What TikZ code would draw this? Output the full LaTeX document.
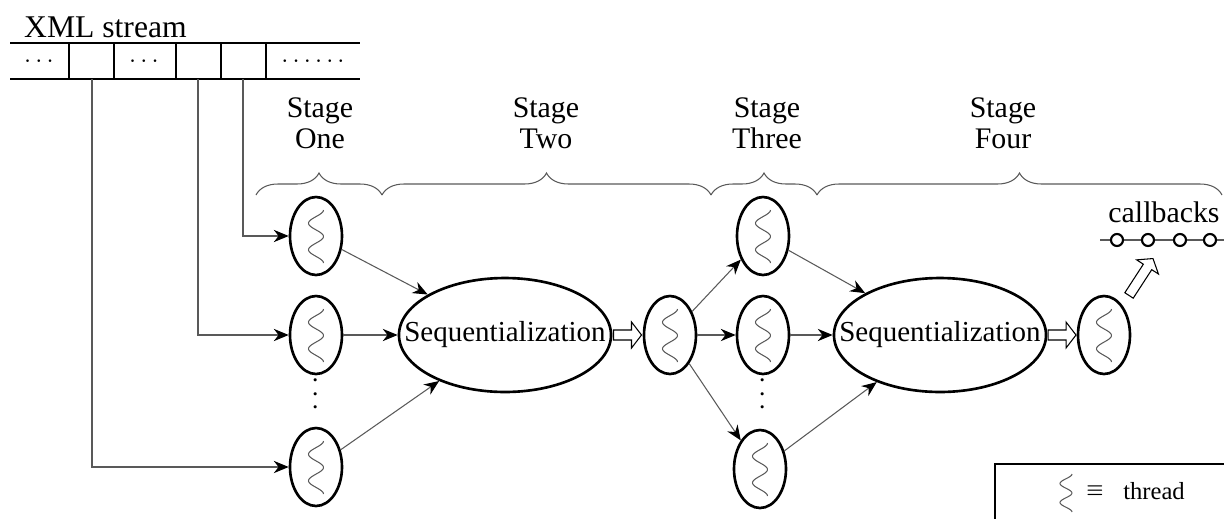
\documentclass[tikz,border=0pt]{standalone}
\usepackage{fontspec}
\setmainfont{Liberation Serif}
\usepackage{tikz}
\usetikzlibrary{shapes,shapes.geometric}
\usetikzlibrary{arrows.meta,calc}
\usetikzlibrary{decorations.pathreplacing}
\definecolor{linkgray}{gray}{0.35}

\tikzset{
  thread/.style={ellipse, draw, line width=1.5pt, minimum width=1.04cm, minimum height=1.56cm, inner sep=0pt,
    path picture={\draw[linkgray, line width=0.6pt, shift={(path picture bounding box.center)}]
      plot[domain=0:720, samples=50, smooth] ({7.5*cos(\x)}, {-26+\x/720*53});}},
  seqbox/.style={ellipse, draw, line width=1.5pt, minimum width=4.2cm, minimum height=2.28cm,
    inner xsep=-14.6pt, inner ysep=0pt, font=\fontsize{16.5}{18}\selectfont},
  link/.style={draw=linkgray, line width=0.6pt, -{Stealth[length=8.5pt, width=7pt, color=black]}},
  pics/hollowarr/.style={code={
    \draw[line width=0.6pt, fill=white] (-#1/2,-5) -- (#1/2-10,-5) -- (#1/2-10,-13)
      -- (#1/2,0) -- (#1/2-10,13) -- (#1/2-10,5) -- (-#1/2,5) -- cycle;}},
  stagebrace/.style={draw=linkgray, line width=0.6pt, decorate, decoration={brace, amplitude=0.44cm}},
  stagelabel/.style={align=center, font=\fontsize{17}{17.5}\selectfont},
  celldots/.style={inner sep=0pt, font=\fontsize{14}{14}\selectfont},
  cbdot/.style={circle, draw, line width=1.2pt, fill=white, minimum size=0.24cm, inner sep=0pt},
}

\begin{document}
\begin{tikzpicture}[x=0.02cm, y=-0.02cm]
	\useasboundingbox (0,0) rectangle (1224,518);

	% XML stream
	\node[anchor=west, font=\fontsize{18}{18}\selectfont] (xml) at (18,27) {XML stream};
	\draw [line width=0.7pt] (10,43) -- (360,43) (10,79) -- (360,79);
	\foreach \xx in {69,114,176,221,266}
		\draw [line width=0.7pt] (\xx,43) -- (\xx,79);
	\node[celldots] (dotsa) at (39,62) {$\cdots$};
	\node[celldots] (dotsb) at (144,62) {$\cdots$};
	\node[celldots] (dotsc) at (313,62) {$\cdots\cdots$};
	\coordinate (cellB) at (92,79);
	\coordinate (cellD) at (198,79);
	\coordinate (cellE) at (243,79);

	% stages
	\draw [stagebrace] (256,195) -- (382,195);
	\draw [stagebrace] (382,195) -- (711,195);
	\draw [stagebrace] (711,195) -- (817,195);
	\draw [stagebrace] (817,195) -- (1222,195);
	\node[stagelabel] (lblOne) at (320,123) {Stage\\One};
	\node[stagelabel] (lblTwo) at (546,123) {Stage\\Two};
	\node[stagelabel] (lblThree) at (767,123) {Stage\\Three};
	\node[stagelabel] (lblFour) at (1003,123) {Stage\\Four};

	% threads
	\node[thread] (t1a) at (316,236) {};
	\node[thread] (t1b) at (316,335) {};
	\node[thread] (t1c) at (316,467) {};
	\node[rotate=90, font=\fontsize{16.5}{16.5}\selectfont] (vdA) at (316,394) {$\cdots$};
	\node[seqbox] (seqA) at (505,335) {Sequentialization};
	\node[thread] (hub) at (670,335) {};
	\node[thread] (t3a) at (763,236) {};
	\node[thread] (t3b) at (763,335) {};
	\node[thread] (t3c) at (760,469) {};
	\node[rotate=90, font=\fontsize{16.5}{16.5}\selectfont] (vdB) at (763,394) {$\cdots$};
	\node[seqbox] (seqB) at (940,335) {Sequentialization};
	\node[thread] (fin) at (1104,335) {};

	\draw [link] (cellB) |- (t1c.west);
	\draw [link] (cellD) |- (t1b.west);
	\draw [link] (cellE) |- (t1a.west);
	\draw [link] (t1a) -- (seqA);
	\draw [link] (t1b) -- (seqA);
	\draw [link] (t1c) -- (seqA);
	\draw [link] (hub) -- (t3a);
	\draw [link] (hub) -- (t3b);
	\draw [link] (hub) -- (t3c);
	\draw [link] (t3a) -- (seqB);
	\draw [link] (t3b) -- (seqB);
	\draw [link] (t3c) -- (seqB);

	\pic at ($(seqA.east)!0.5!(hub.west)$) {hollowarr=28};
	\pic at ($(seqB.east)!0.5!(fin.west)$) {hollowarr=28};
	\pic[rotate=57] at (1141,277) {hollowarr=44};

	% callbacks
	\draw [linkgray, line width=0.6pt] (1100,240) -- (1226,240);
	\foreach \cx [count=\i] in {1117,1148,1180,1210}
		\node[cbdot] (cb\i) at (\cx,240) {};
	\node[font=\fontsize{17}{17}\selectfont] (cblabel) at (1164,212) {callbacks};

	% legend
	\draw [line width=0.6pt] (1230,464) -- (995,464) -- (995,525);
	\draw [linkgray, line width=0.6pt, shift={(1066,493)}]
		plot[domain=0:720, samples=50, smooth] ({6*cos(\x)}, {-19+\x/720*38});
	\node[font=\fontsize{11}{11}\selectfont\boldmath] (equiv) at (1095,491) {$\equiv$};
	\node[font=\fontsize{14}{14}\selectfont] (threadlbl) at (1154,491) {thread};
\end{tikzpicture}
\end{document}
